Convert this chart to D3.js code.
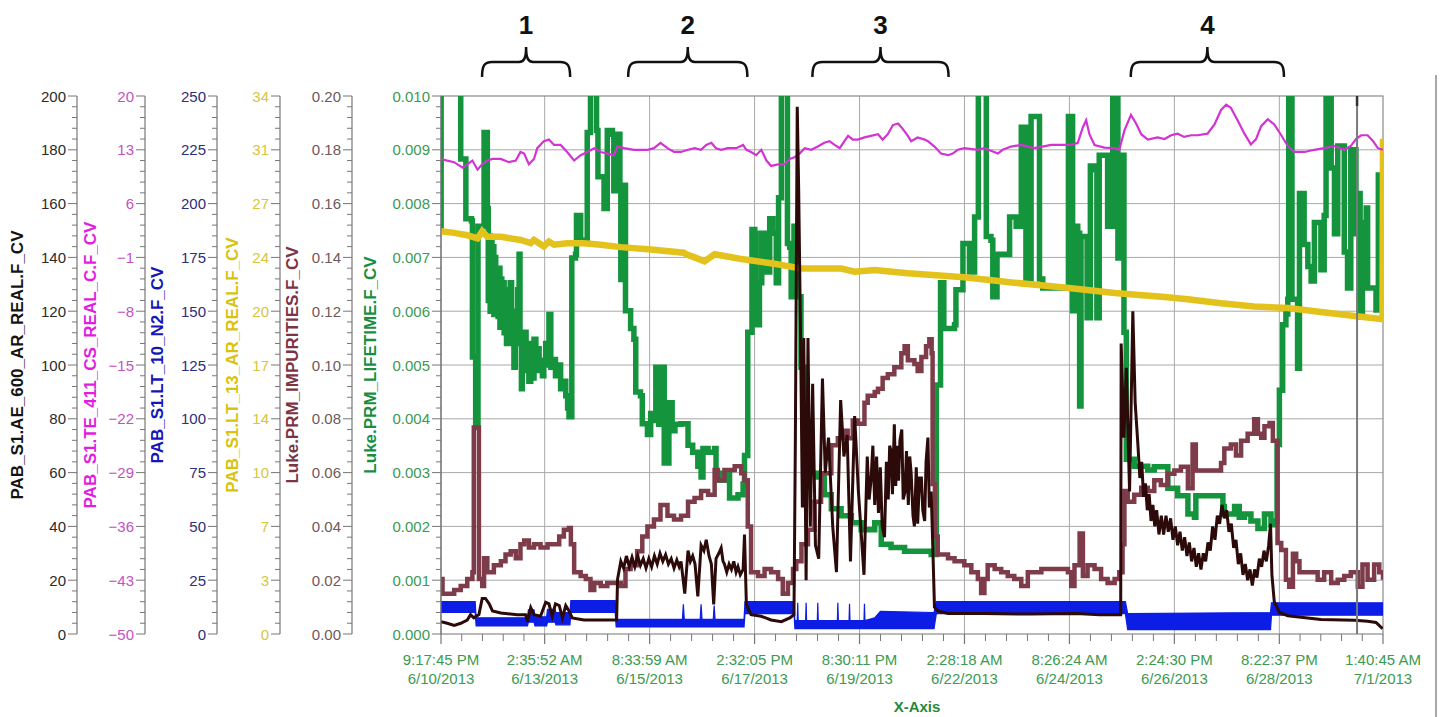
<!DOCTYPE html>
<html>
<head>
<meta charset="utf-8">
<script src="https://cdn.jsdelivr.net/npm/d3@7"></script>
<style>
  body { margin: 0; background: #fff; }
  text { font-family: "Liberation Sans", Arial, sans-serif; }
</style>
</head>
<body>
<svg id="chart"></svg>
<script>
// ---- data (time = day of June 2013, 31 = July 1) ----
const xTickLabels = [
  ['9:17:45 PM', '6/10/2013'], ['2:35:52 AM', '6/13/2013'], ['8:33:59 AM', '6/15/2013'],
  ['2:32:05 PM', '6/17/2013'], ['8:30:11 PM', '6/19/2013'], ['2:28:18 AM', '6/22/2013'],
  ['8:26:24 AM', '6/24/2013'], ['2:24:30 PM', '6/26/2013'], ['8:22:37 PM', '6/28/2013'],
  ['1:40:45 AM', '7/1/2013']
];
const seriesNames = [
  'PAB_S1.AE_600_AR_REAL.F_CV', 'PAB_S1.TE_411_CS_REAL_C.F_CV', 'PAB_S1.LT_10_N2.F_CV',
  'PAB_S1.LT_13_AR_REAL.F_CV', 'Luke.PRM_IMPURITIES.F_CV', 'Luke.PRM_LIFETIME.F_CV'
];
const aeRange = [0, 200];
const teRange = [-50, 20];
const lt10Range = [0, 250];
const lt13Range = [0, 34];
const impRange = [0, 0.2];
const lifeRange = [0, 0.01];

const regionLabels = ['1', '2', '3', '4'];
const regionDays = [[11.767, 13.654], [14.898, 17.451], [18.845, 21.762], [25.666, 28.948]];
const cursorDay = 30.514;

// Luke.PRM_LIFETIME.F_CV
const lifetime = [
[10.887,0.00752],[10.89,0.0105],[11.31,0.0105],[11.31,0.00883],[11.42,0.00883],[11.42,0.00772],[11.54,0.00768],[11.56,0.00515],[11.63,0.00384],[11.68,0.00758],[11.79,0.00758],[11.81,0.00932],[11.87,0.00932],
[11.88,0.00791],[11.90,0.00620],[11.92,0.00740],[11.94,0.00600],[11.96,0.00730],[11.98,0.00640],[12.00,0.00720],[12.02,0.00594],[12.04,0.00700],[12.06,0.00610],[12.09,0.00673],[12.11,0.00590],[12.13,0.00680],[12.15,0.00570],[12.17,0.00660],[12.19,0.00580],[12.22,0.00653],[12.24,0.00560],[12.27,0.00640],[12.29,0.00540],[12.31,0.00620],[12.34,0.00561],[12.37,0.00653],[12.40,0.00540],[12.42,0.00600],[12.45,0.00496],[12.48,0.00600],[12.50,0.00540],[12.53,0.00640],[12.56,0.00706],[12.58,0.00540],[12.61,0.00456],[12.63,0.00561],[12.66,0.00500],[12.68,0.00561],[12.71,0.00490],[12.74,0.00540],[12.77,0.00470],[12.81,0.00520],[12.84,0.00476],[12.88,0.00548],[12.92,0.00500],[12.96,0.00530],[12.99,0.00490],[13.03,0.00509],[13.06,0.00480],[13.09,0.00509],[13.13,0.00540],[13.17,0.00500],[13.20,0.00594],[13.24,0.00496],[13.29,0.00510],[13.34,0.00480],[13.40,0.00500],[13.45,0.00456],[13.50,0.00470],[13.56,0.00443],[13.60,0.00420],[13.63,0.00404],[13.68,0.00404],
[13.69,0.00699],[13.77,0.00706],[13.79,0.00778],[13.87,0.00778],[13.88,0.00732],[13.99,0.00732],[14.02,0.00932],[14.08,0.00932],[14.09,0.0105],[14.20,0.0105],[14.22,0.00936],[14.25,0.00850],[14.35,0.00850],[14.38,0.00791],[14.43,0.00791],[14.45,0.00936],[14.56,0.00929],[14.59,0.00824],[14.65,0.00824],[14.67,0.00929],[14.71,0.00929],[14.72,0.00824],[14.74,0.00659],[14.81,0.00834],[14.84,0.00601],[14.95,0.00568],[15.02,0.00548],[15.06,0.00450],[15.16,0.00443],[15.20,0.00391],[15.31,0.00371],[15.38,0.00410],[15.45,0.00397],[15.49,0.00496],[15.55,0.00390],[15.63,0.00496],[15.67,0.00318],[15.77,0.00430],[15.84,0.00378],
[15.90,0.00390],[16.03,0.00391],[16.18,0.00351],[16.28,0.00338],[16.39,0.00312],[16.46,0.00292],[16.50,0.00345],[16.61,0.00338],[16.75,0.00345],[16.78,0.00299],[16.86,0.00286],[16.96,0.00299],[17.07,0.00253],[17.25,0.00259],[17.36,0.00279],[17.39,0.00332],[17.46,0.00561],[17.55,0.00752],[17.61,0.00745],[17.64,0.00575],[17.71,0.00653],[17.76,0.00745],[17.85,0.00673],[17.93,0.00772],[18.00,0.00745],[18.07,0.00653],[18.12,0.00811],[18.18,0.0105],[18.28,0.0105],[18.31,0.00726],[18.36,0.00719],[18.39,0.00627],[18.45,0.00758],[18.50,0.00706],[18.53,0.00627],[18.60,0.00496],[18.68,0.00397],[18.82,0.00299],[18.96,0.00292],[19.10,0.00259],[19.25,0.00233],[19.46,0.00220],[19.68,0.00207],[19.89,0.00194],[20.18,0.00207],[20.32,0.00167],[20.53,0.00161],[20.82,0.00154],[21.25,0.00154],
[21.39,0.00148],[21.45,0.00148],[21.50,0.00463],[21.55,0.00463],[21.59,0.00653],[21.66,0.00568],[21.89,0.00575],[21.92,0.00640],[22.03,0.00640],[22.07,0.00726],[22.17,0.00726],[22.21,0.00673],[22.28,0.00673],[22.32,0.00775],[22.39,0.00775],[22.40,0.0105],[22.55,0.0105],[22.57,0.00739],[22.67,0.00732],[22.71,0.00627],[22.78,0.00627],[22.80,0.00706],[22.90,0.00706],[23.07,0.00775],[23.17,0.00775],[23.21,0.00758],[23.28,0.00758],[23.32,0.00942],[23.40,0.00942],[23.42,0.00660],[23.50,0.00660],[23.53,0.00962],[23.69,0.00962],[23.71,0.00660],[23.78,0.00643],[24.32,0.00643],[24.33,0.00962],[24.39,0.00962],[24.42,0.00601],[24.46,0.00758],[24.53,0.00745],[24.57,0.00424],[24.60,0.00739],[24.69,0.00739],[24.73,0.00588],[24.80,0.00870],[24.89,0.00863],[24.94,0.00588],[24.99,0.00890],[25.14,0.00890],[25.17,0.00758],[25.24,0.00758],[25.28,0.0105],[25.35,0.0105],[25.39,0.00699],[25.44,0.00890],[25.49,0.00890],[25.52,0.00561],[25.57,0.00325],[25.74,0.00312],[26.03,0.00305],
[26.17,0.00311],[26.46,0.00271],[26.67,0.00257],[26.89,0.00223],[27.03,0.00217],[27.06,0.00257],[27.53,0.00257],[27.64,0.00237],[27.67,0.00223],[27.89,0.00237],[27.99,0.00217],[28.10,0.00223],[28.24,0.00210],[28.39,0.00196],[28.53,0.00223],[28.67,0.00203],[28.76,0.00210],[28.80,0.00352],[28.85,0.00453],[28.92,0.00575],[28.99,0.00595],[29.03,0.00622],[29.05,0.0105],[29.10,0.0105],[29.12,0.00622],[29.21,0.00622],[29.24,0.00494],[29.28,0.00819],[29.35,0.00819],[29.38,0.00724],[29.46,0.00683],[29.53,0.00656],[29.60,0.00765],[29.67,0.00765],[29.74,0.00677],[29.81,0.00778],[29.85,0.0105],[29.92,0.0105],[29.96,0.00866],[30.03,0.00744],[30.10,0.00907],[30.21,0.00907],[30.24,0.00710],[30.31,0.00643],[30.38,0.00900],[30.46,0.00900],[30.49,0.00744],[30.54,0.00819],[30.58,0.00589],[30.63,0.00765],[30.71,0.00792],[30.74,0.00643],[30.88,0.00643],[30.92,0.00602],[30.97,0.00853],[31.07,0.00853]
];

// Luke.PRM_IMPURITIES.F_CV
const impurities = [
[10.887,0.0204],[10.92,0.0150],[11.02,0.0150],[11.17,0.0164],[11.31,0.0178],[11.45,0.0204],[11.56,0.0230],[11.59,0.0768],[11.65,0.0768],[11.70,0.0204],[11.77,0.0178],[11.81,0.0282],[11.88,0.0230],[12.02,0.0256],[12.17,0.0270],[12.27,0.0296],[12.38,0.0308],[12.49,0.0282],[12.59,0.0334],[12.67,0.0348],[12.77,0.0322],[12.88,0.0334],[13.02,0.0322],[13.17,0.0334],[13.31,0.0334],[13.42,0.0362],[13.52,0.0388],[13.63,0.0394],[13.67,0.0334],[13.74,0.0230],[13.88,0.0216],[13.99,0.0204],[14.09,0.0164],[14.17,0.0190],[14.31,0.0178],[14.45,0.0190],[14.63,0.0190],[14.74,0.0178],[14.84,0.0242],[14.95,0.0256],[15.09,0.0308],[15.20,0.0362],[15.31,0.0400],[15.45,0.0426],[15.59,0.0480],[15.74,0.0440],[15.88,0.0426],
[16.03,0.0440],[16.18,0.0492],[16.32,0.0506],[16.46,0.0532],[16.61,0.0518],[16.75,0.0610],[16.82,0.0572],[16.96,0.0610],[17.18,0.0624],[17.32,0.0598],[17.39,0.0572],[17.46,0.0400],[17.53,0.0230],[17.68,0.0216],[17.82,0.0242],[17.96,0.0230],[18.11,0.0204],[18.21,0.0150],[18.32,0.0190],[18.43,0.0242],[18.50,0.0270],[18.61,0.0334],[18.75,0.0388],[18.89,0.0492],[19.03,0.0598],[19.14,0.0598],[19.25,0.0702],[19.39,0.0728],[19.53,0.0756],[19.60,0.0728],[19.71,0.0794],[19.82,0.0782],[19.96,0.0860],[20.03,0.0886],[20.18,0.0900],[20.25,0.0912],[20.35,0.0952],[20.46,0.0966],[20.60,0.0992],[20.75,0.1044],[20.82,0.1070],[20.89,0.1018],[21.03,0.1004],[21.10,0.0978],[21.18,0.1030],[21.28,0.1070],[21.35,0.1096],[21.40,0.1044],[21.42,0.0558],[21.47,0.0362],[21.53,0.0296],[21.75,0.0282],[21.89,0.0270],[22.10,0.0256],[22.25,0.0230],[22.39,0.0204],[22.46,0.0152],[22.53,0.0204],[22.60,0.0256],[22.75,0.0242],[22.89,0.0230],[23.03,0.0216],[23.17,0.0204],[23.32,0.0178],[23.46,0.0230],[23.75,0.0242],[24.17,0.0242],[24.32,0.0230],[24.39,0.0178],[24.46,0.0256],[24.57,0.0374],[24.64,0.0216],[24.74,0.0256],[24.89,0.0242],[25.03,0.0204],[25.17,0.0190],[25.32,0.0204],[25.42,0.0230],[25.49,0.0334],[25.53,0.0532],[25.60,0.0492],[25.74,0.0518],[25.89,0.0544],[26.03,0.0532],[26.17,0.0572],
[26.31,0.0554],[26.46,0.0596],[26.60,0.0608],[26.74,0.0622],[26.89,0.0542],[26.99,0.0704],[27.06,0.0608],[27.46,0.0608],[27.60,0.0636],[27.67,0.0690],[27.81,0.0704],[27.92,0.0664],[28.03,0.0718],[28.17,0.0744],[28.31,0.0798],[28.39,0.0744],[28.46,0.0730],[28.53,0.0772],[28.64,0.0784],[28.71,0.0718],[28.76,0.0718],[28.81,0.0338],[28.89,0.0312],[28.99,0.0202],[29.06,0.0176],[29.14,0.0298],[29.21,0.0270],[29.28,0.0230],[29.53,0.0230],[29.67,0.0202],[29.81,0.0230],[29.96,0.0190],[30.10,0.0202],[30.24,0.0216],[30.38,0.0230],[30.53,0.0176],[30.63,0.0258],[30.74,0.0202],[30.88,0.0258],[30.99,0.0230],[31.07,0.0202]
];

// PAB_S1.TE_411_CS_REAL_C.F_CV
const te411 = [
[10.887,11.81],[11.02,11.6],[11.17,11.39],[11.35,10.69],[11.45,11.11],[11.56,11.6],[11.67,10.41],[11.77,11.11],[11.88,11.6],[11.99,11.81],[12.17,11.81],[12.34,11.39],[12.49,11.6],[12.59,12.72],[12.67,12.51],[12.77,11.11],[12.88,11.81],[12.95,13.21],[13.09,14.12],[13.20,14.33],[13.31,13.63],[13.45,13.63],[13.59,12.72],[13.74,11.6],[13.88,12.3],[14.02,12.72],[14.17,13.21],[14.31,12.72],[14.45,12.51],[14.59,12.3],[14.67,13.42],[14.81,13.21],[15.02,13.0],[15.31,13.0],[15.45,13.21],[15.59,13.91],[15.74,13.21],[15.88,12.72],
[16.03,12.72],[16.18,13.0],[16.32,13.21],[16.46,13.0],[16.57,13.63],[16.68,13.91],[16.78,13.21],[16.89,13.0],[17.03,13.21],[17.21,13.21],[17.36,13.63],[17.43,13.0],[17.53,12.72],[17.64,12.3],[17.75,13.0],[17.86,11.6],[17.96,10.9],[18.11,11.11],[18.25,11.11],[18.36,11.81],[18.46,12.02],[18.57,12.51],[18.68,13.21],[18.82,13.0],[18.96,13.42],[19.10,13.91],[19.21,14.12],[19.32,13.63],[19.43,13.21],[19.53,14.12],[19.61,14.82],[19.71,14.33],[19.82,14.33],[19.96,14.61],[20.10,14.82],[20.25,15.03],[20.35,14.33],[20.46,15.03],[20.57,16.22],[20.68,16.43],[20.78,15.73],[20.89,14.82],[20.96,14.12],[21.10,14.61],
[21.25,14.33],[21.32,14.12],[21.46,13.42],[21.60,12.51],[21.75,12.3],[21.85,12.51],[21.96,13.0],[22.10,13.21],[22.39,13.0],[22.53,13.21],[22.82,12.51],[22.92,13.0],[23.10,13.42],[23.32,13.63],[23.60,13.21],[23.96,13.63],[24.39,13.63],[24.53,13.91],[24.64,15.94],[24.71,16.85],[24.78,15.03],[24.89,13.63],[25.10,13.28],[25.32,13.21],[25.42,13.0],[25.53,15.52],[25.67,17.55],[25.78,16.43],[25.89,15.03],[26.03,14.33],[26.24,14.61],
[26.39,14.4],[26.53,14.89],[26.67,15.1],[26.81,14.68],[26.96,14.89],[27.10,14.89],[27.31,15.1],[27.46,16.29],[27.60,18.18],[27.71,18.88],[27.81,18.46],[27.96,16.78],[28.10,15.1],[28.24,13.7],[28.35,14.4],[28.46,16.08],[28.60,16.99],[28.74,16.29],[28.89,14.89],[29.03,13.49],[29.17,12.72],[29.39,12.72],[29.60,13.0],[29.81,13.21],[30.03,13.49],[30.24,13.0],[30.38,13.49],[30.49,14.4],[30.60,14.89],[30.74,14.89],[30.85,14.19],[30.96,13.21],[31.07,13.0]
];

// PAB_S1.LT_13_AR_REAL.F_CV
const lt13 = [
[10.887,25.45],[11.17,25.35],[11.45,25.2],[11.67,25.0],[11.77,25.45],[11.88,25.1],[12.17,25.1],[12.59,24.9],[12.81,24.7],[12.88,24.9],[13.09,24.5],[13.20,24.8],[13.31,24.6],[13.59,24.7],[13.95,24.7],[14.31,24.6],[14.74,24.45],[15.38,24.3],[16.09,24.1],[16.14,24.0],[16.32,23.8],[16.53,23.55],[16.75,24.0],[17.32,23.7],[18.03,23.4],[18.60,23.1],[19.46,23.1],[19.75,22.9],[20.18,23.0],[20.89,22.8],[22.10,22.55],[23.17,22.2],[24.24,21.9],[25.32,21.55],[26.39,21.3],[26.89,21.15],[27.60,20.9],[28.31,20.7],[29.03,20.6],[29.74,20.35],[30.46,20.1],[31.06,19.9],[31.07,31.3]
];

// PAB_S1.LT_10_N2.F_CV  [day, low, high] of the noisy band
const lt10Band = [
[10.887,10,15],[11.62,10,15],[11.64,3.75,7.5],[12.74,3.75,7.5],[12.76,5.5,11.25],[12.88,5.5,11.25],[12.90,3.75,8],[13.15,3.75,8],[13.17,5.5,11.5],[13.33,5.5,11.5],[13.35,4.25,10],[13.65,4.25,10],[13.67,10,15.5],[14.62,10,15.5],[14.64,3.25,6.75],[16.06,3.25,6.75],[16.08,3.25,13.75],[16.10,3.25,6.75],[16.44,3.25,6.75],[16.46,3.25,13.75],[16.48,3.25,6.75],[16.72,3.25,6.75],[16.74,3.25,13.25],[16.76,3.25,6.75],[17.38,3.25,6.75],[17.40,9.5,15],[18.45,9.5,15],[18.47,2.5,6.25],[18.52,2.5,6.25],[18.53,2.5,14.5],[18.54,2.5,6.25],[18.70,2.5,6.25],[18.71,2.5,14.5],[18.72,2.5,6.25],[18.95,2.5,6.25],[18.96,2.5,14.5],[18.97,2.5,6.25],[19.38,2.5,6.25],[19.39,2.5,14.5],[19.40,2.5,6.25],[19.63,2.5,6.25],[19.64,2.5,14],[19.65,2.5,6.25],[19.95,2.5,6.25],[19.96,2.5,14],[19.97,2.5,6.25],[20.18,2.5,7.5],[20.30,2.5,10.5],[21.45,2.5,10],[21.50,9.5,15],[25.55,9.5,15],[25.60,2,9.5],[28.66,2,10],[28.68,8.75,14.5],[31.07,8.75,14.5]
];

// PAB_S1.AE_600_AR_REAL.F_CV
const ae600 = [
[10.887,4.6],[11.02,4.0],[11.17,3.2],[11.31,4.0],[11.45,5.2],[11.52,7.2],[11.59,6.0],[11.70,7.2],[11.77,13.2],[11.84,13.2],[11.92,11.2],[11.99,8.6],[12.17,7.8],[12.52,7.2],[12.70,7.2],[12.74,4.6],[12.81,9.8],[12.88,7.2],[13.02,6.6],[13.13,11.8],[13.20,11.2],[13.27,6.6],[13.34,11.2],[13.42,10.6],[13.49,6.0],[13.56,10.6],[13.63,8.6],[13.70,6.0],[13.95,5.2],[14.65,5.2],[14.67,20.4],[14.74,27],
[14.80,24.5],[14.86,29],[14.92,25],[14.98,28.5],[15.04,25],[15.10,29],[15.16,25.5],[15.22,28],[15.28,24.5],[15.34,28],[15.40,25],[15.46,29],[15.52,26],[15.58,30],[15.64,27],[15.70,29.5],[15.76,26],[15.82,28],[15.88,24.5],[15.94,27.5],[15.99,25],[16.03,27],[16.11,15],[16.18,31],[16.23,27],[16.28,29],[16.33,26],[16.39,14],[16.46,33],[16.52,31],[16.57,35],[16.63,29],[16.68,26],[16.73,11],[16.78,28],[16.84,30],[16.89,32],[16.93,27],[16.96,26],[17.01,23],[17.06,26],[17.11,24],[17.16,27],[17.21,23],[17.25,25],[17.30,22],[17.36,24],[17.39,37],[17.43,11],[17.53,7.2],[17.75,6.6],[17.96,5.2],[18.18,4.6],[18.36,6.0],[18.45,7.2],
[18.48,73],[18.52,196],[18.55,166],[18.59,112],[18.63,47],[18.66,110],[18.71,20],[18.75,110],[18.80,40],[18.85,93],[18.91,33],[18.98,28],[19.06,95],[19.12,60],[19.19,73],[19.28,40],[19.36,23],[19.45,87],[19.52,66],[19.59,74],[19.66,27],[19.75,81],[19.83,53],[19.95,22],[20.02,66],[20.06,50],[20.10,57],[20.14,70],[20.18,48],[20.22,66],[20.26,45],[20.30,62],[20.34,40],[20.39,36],[20.43,64],[20.47,50],[20.50,70],[20.53,68],[20.56,52],[20.60,78],[20.63,55],[20.66,70],[20.69,57],[20.72,72],[20.76,76],[20.79,50],[20.83,53],[20.86,68],[20.90,48],[20.93,66],[20.96,60],[21.00,44],[21.03,40],[21.07,62],[21.10,41],[21.14,58],[21.18,58],[21.21,46],[21.25,42],[21.28,64],[21.32,73],[21.35,47],[21.39,53],[21.42,35],[21.46,10],[21.53,8.6],[21.75,7.6],[22.5,7.6],[23.5,7.4],[24.5,7.6],[25.0,7.2],[25.45,7.2],
[25.46,108],[25.52,73],[25.57,99],[25.64,53],[25.71,120],[25.76,86],[25.82,70],[25.86,58],[25.90,64],[25.94,51],[25.98,56],[26.02,46],[26.06,52],[26.10,42],[26.14,48],[26.18,40],[26.22,46],[26.27,37],[26.32,44],[26.37,37],[26.42,44],[26.47,38],[26.52,43],[26.57,35],[26.62,40],[26.67,33],[26.72,38],[26.77,31],[26.82,36],[26.87,29],[26.92,34],[26.97,27],[27.02,32],[27.07,25],[27.12,30],[27.17,24],[27.22,30],[27.27,27],[27.32,34],[27.37,31],[27.42,40],[27.47,35],[27.52,44],[27.57,41],[27.62,48],[27.67,43],[27.72,46],[27.77,38],[27.82,41],[27.87,32],[27.92,35],[27.97,26],[28.02,30],[28.07,22],[28.12,26],[28.17,20],[28.22,24],[28.27,18],[28.32,24],[28.37,21],[28.42,28],[28.47,25],[28.52,31],[28.57,27],[28.62,33],[28.66,41],[28.69,22],[28.74,12],[28.85,8],[29.03,6.8],[29.74,5.4],[30.46,5.1],[30.74,4.7],[30.92,4.3],[31.06,2.0]
];

// ---- layout ----
const W = 1440, H = 717;
const P = { l: 441, r: 1383, t: 96, b: 634 };

const svg = d3.select('#chart').attr('width', W).attr('height', H)
  .style('background', '#fff').style('display', 'block');

const parseTime = d3.timeParse('%I:%M:%S %p %m/%d/%Y');
const tickDates = xTickLabels.map(l => parseTime(l[0] + ' ' + l[1]));
const june1 = new Date(2013, 5, 1).getTime();
const toDate = d => new Date(june1 + (d - 1) * 864e5);

const x = d3.scaleTime()
  .domain([tickDates[0], tickDates[tickDates.length - 1]])
  .range([P.l, P.r]);
const yOf = range => d3.scaleLinear().domain(range).range([P.b, P.t]);
const yAe = yOf(aeRange), yTe = yOf(teRange), yLt10 = yOf(lt10Range),
      yLt13 = yOf(lt13Range), yImp = yOf(impRange), yLife = yOf(lifeRange);

svg.append('clipPath').attr('id', 'plotclip').append('rect')
  .attr('x', P.l).attr('y', P.t).attr('width', P.r - P.l).attr('height', P.b - P.t);

// grid
const grid = svg.append('g').attr('stroke', '#a9a9a9').attr('stroke-width', 1);
tickDates.slice(1, -1).forEach(d => {
  grid.append('line').attr('x1', x(d)).attr('x2', x(d)).attr('y1', P.t).attr('y2', P.b);
});
d3.range(1, 10).forEach(k => {
  const v = lifeRange[0] + k * (lifeRange[1] - lifeRange[0]) / 10;
  grid.append('line').attr('x1', P.l).attr('x2', P.r).attr('y1', yLife(v)).attr('y2', yLife(v));
});
svg.append('rect').attr('x', P.l).attr('y', P.t).attr('width', P.r - P.l).attr('height', P.b - P.t)
  .attr('fill', 'none').attr('stroke', '#8a8a8a').attr('stroke-width', 1.2);

// series
const plot = svg.append('g').attr('clip-path', 'url(#plotclip)');
const lineOf = (ys, curve) => d3.line().x(d => x(toDate(d[0]))).y(d => ys(d[1])).curve(curve || d3.curveLinear);

plot.append('path').datum(lifetime)
  .attr('d', lineOf(yLife, d3.curveStepAfter))
  .attr('fill', 'none').attr('stroke', '#14953d').attr('stroke-width', 5.5);

plot.append('path').datum(impurities)
  .attr('d', lineOf(yImp, d3.curveStepAfter))
  .attr('fill', 'none').attr('stroke', '#7e3c4a').attr('stroke-width', 4.5);

plot.append('path').datum(lt13)
  .attr('d', lineOf(yLt13))
  .attr('fill', 'none').attr('stroke', '#e4c21c').attr('stroke-width', 6.5);

plot.append('path').datum(te411)
  .attr('d', lineOf(yTe))
  .attr('fill', 'none').attr('stroke', '#d433d4').attr('stroke-width', 2.2);

plot.append('path').datum(lt10Band)
  .attr('d', d3.area().x(d => x(toDate(d[0]))).y0(d => yLt10(d[1])).y1(d => yLt10(d[2])))
  .attr('fill', '#0c1de6').attr('stroke', '#0c1de6').attr('stroke-width', 1.2);

plot.append('path').datum(ae600)
  .attr('d', lineOf(yAe))
  .attr('fill', 'none').attr('stroke', '#2c0a0a').attr('stroke-width', 3);

// cursor line
const cx = x(toDate(cursorDay));
svg.append('line').attr('x1', cx).attr('x2', cx).attr('y1', P.t).attr('y2', P.b)
  .attr('stroke', '#7a7a7a').attr('stroke-width', 2);
svg.append('line').attr('x1', cx).attr('x2', cx).attr('y1', P.t).attr('y2', P.t + 10)
  .attr('stroke', '#333').attr('stroke-width', 2.5);

// left axes
const axesCfg = [
  { range: aeRange,   fmt: '.0f', x: 77,  tx: 17,  lab: '#2a2a2a', col: '#141414' },
  { range: teRange,   fmt: '.0f', x: 145, tx: 90,  lab: '#c451c4', col: '#e01de0' },
  { range: lt10Range, fmt: '.0f', x: 217, tx: 157, lab: '#2e2e7c', col: '#1515b8' },
  { range: lt13Range, fmt: '.0f', x: 280, tx: 232, lab: '#d8c63a', col: '#d9c20e' },
  { range: impRange,  fmt: '.2f', x: 352, tx: 292, lab: '#6f5858', col: '#7b3444' },
  { range: lifeRange, fmt: '.3f', x: 441, tx: 370, lab: '#3c9a52', col: '#178f3f' }
];
axesCfg.forEach((a, i) => {
  const ys = yOf(a.range);
  const g = svg.append('g');
  g.append('line').attr('x1', a.x).attr('x2', a.x).attr('y1', P.t).attr('y2', P.b)
    .attr('stroke', '#777').attr('stroke-width', 1.2);
  d3.range(0, 51).forEach(k => {
    const v = a.range[0] + k * (a.range[1] - a.range[0]) / 50;
    const major = k % 5 === 0;
    g.append('line').attr('x1', a.x - (major ? 9 : 5)).attr('x2', a.x)
      .attr('y1', ys(v)).attr('y2', ys(v)).attr('stroke', '#777').attr('stroke-width', 1);
    if (major) {
      g.append('text').attr('x', a.x - 11).attr('y', ys(v))
        .attr('text-anchor', 'end').attr('dominant-baseline', 'central')
        .attr('font-size', 15).attr('fill', a.lab)
        .text(d3.format(a.fmt)(v));
    }
  });
  svg.append('text')
    .attr('transform', `translate(${a.tx},${(P.t + P.b) / 2}) rotate(-90)`)
    .attr('text-anchor', 'middle').attr('dominant-baseline', 'central')
    .attr('font-size', 17).attr('font-weight', 'bold').attr('fill', a.col)
    .text(seriesNames[i]);
});

// x axis
const xg = svg.append('g');
tickDates.forEach((d, i) => {
  xg.append('line').attr('x1', x(d)).attr('x2', x(d)).attr('y1', P.b).attr('y2', P.b + 10)
    .attr('stroke', '#777').attr('stroke-width', 1.2);
  if (i < tickDates.length - 1) {
    const t0 = +d, t1 = +tickDates[i + 1];
    d3.range(1, 5).forEach(k => {
      const xm = x(new Date(t0 + k * (t1 - t0) / 5));
      xg.append('line').attr('x1', xm).attr('x2', xm).attr('y1', P.b).attr('y2', P.b + 7)
        .attr('stroke', '#777').attr('stroke-width', 1);
    });
  }
  const t = xg.append('text').attr('x', x(d)).attr('text-anchor', 'middle')
    .attr('font-size', 15).attr('fill', '#3c9a52');
  t.append('tspan').attr('x', x(d)).attr('y', 665).text(xTickLabels[i][0]);
  t.append('tspan').attr('x', x(d)).attr('y', 684).text(xTickLabels[i][1]);
});
svg.append('text').attr('x', 917).attr('y', 712).attr('text-anchor', 'middle')
  .attr('font-size', 15).attr('font-weight', 'bold').attr('fill', '#1f8a3c').text('X-Axis');

// region brackets
regionDays.forEach((r, i) => {
  const x1 = x(toDate(r[0])), x2 = x(toDate(r[1])), m = (x1 + x2) / 2;
  svg.append('path')
    .attr('d', `M${x1},77 C${x1},66 ${x1 + 2},62 ${x1 + 10},62 L${m - 7},62 C${m - 2},62 ${m},58 ${m},47 ` +
               `C${m},58 ${m + 2},62 ${m + 7},62 L${x2 - 10},62 C${x2 - 2},62 ${x2},66 ${x2},77`)
    .attr('fill', 'none').attr('stroke', '#111').attr('stroke-width', 2.5);
  svg.append('text').attr('x', m).attr('y', 34).attr('text-anchor', 'middle')
    .attr('font-size', 26).attr('font-weight', 'bold').attr('fill', '#111').text(regionLabels[i]);
});

// frame edge on the right
svg.append('line').attr('x1', 1436).attr('x2', 1436).attr('y1', 75).attr('y2', H)
  .attr('stroke', '#a8a8a8').attr('stroke-width', 2);
</script>
</body>
</html>
